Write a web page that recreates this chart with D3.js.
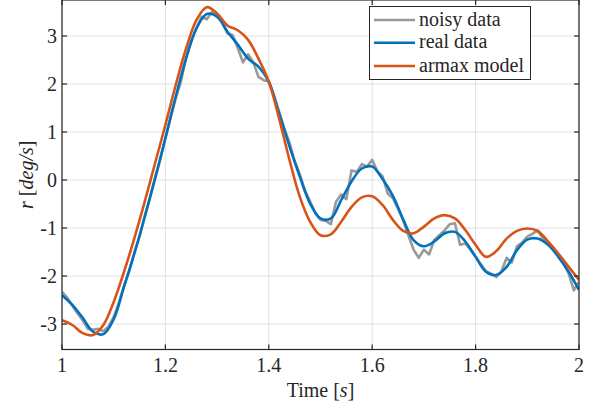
<!DOCTYPE html>
<html>
<head>
<meta charset="utf-8">
<script src="https://cdn.jsdelivr.net/npm/d3@7"></script>
<style>
  body { margin: 0; background: #fff; }
  svg { display: block; font-family: "Liberation Serif", serif; }
</style>
</head>
<body>
<script>
// time axis for the smooth series (step 0.02)
var tSmooth = d3.range(0, 51).map(function(i) { return 1 + i * 0.02; });
// time axis for the noisy series (step 0.01)
var tNoisy = d3.range(0, 101).map(function(i) { return 1 + i * 0.01; });

var realData = [-2.40, -2.60, -2.87, -3.16, -3.21, -2.90, -2.22, -1.53, -0.77, 0.03,
  0.87, 1.74, 2.53, 3.16, 3.46, 3.40, 3.09, 2.82, 2.53, 2.36,
  2.05, 1.39, 0.70, 0.07, -0.49, -0.80, -0.80, -0.42, -0.03, 0.24,
  0.28, 0.02, -0.33, -0.82, -1.25, -1.38, -1.28, -1.11, -1.08, -1.28,
  -1.60, -1.91, -1.98, -1.81, -1.46, -1.24, -1.22, -1.35, -1.60, -1.91,
  -2.29];

var armaxModel = [-2.92, -3.02, -3.19, -3.23, -3.02, -2.54, -1.91, -1.21, -0.45, 0.35,
  1.15, 1.98, 2.74, 3.33, 3.60, 3.47, 3.22, 3.12, 2.92, 2.53,
  2.05, 1.28, 0.42, -0.35, -0.87, -1.15, -1.13, -0.87, -0.56, -0.36,
  -0.34, -0.52, -0.83, -1.06, -1.11, -0.97, -0.80, -0.73, -0.80, -1.04,
  -1.35, -1.60, -1.48, -1.22, -1.06, -1.01, -1.06, -1.28, -1.53, -1.81,
  -2.08];

var noisyData = [-2.33, -2.45, -2.62, -2.78, -2.92, -3.10, -3.12, -3.10, -3.15, -3.05,
  -2.85, -2.55, -2.20, -1.90, -1.50, -1.18, -0.75, -0.38, 0.05, 0.42,
  0.88, 1.30, 1.70, 2.05, 2.55, 2.90, 3.15, 3.40, 3.35, 3.50,
  3.42, 3.30, 3.05, 3.02, 2.75, 2.45, 2.62, 2.45, 2.15, 2.08,
  2.05, 1.75, 1.42, 1.08, 0.78, 0.40, 0.12, -0.22, -0.45, -0.68,
  -0.83, -0.85, -0.92, -0.45, -0.30, -0.40, 0.20, 0.17, 0.33, 0.28,
  0.42, 0.18, 0.08, -0.28, -0.38, -0.60, -0.85, -1.15, -1.45, -1.62,
  -1.45, -1.55, -1.25, -1.15, -1.05, -0.92, -0.90, -1.35, -1.32, -1.45,
  -1.60, -1.75, -1.90, -1.95, -2.02, -1.90, -1.62, -1.72, -1.38, -1.30,
  -1.18, -1.12, -1.05, -1.22, -1.32, -1.42, -1.58, -1.72, -1.95, -2.30,
  -2.12];

var xTicks = [1, 1.2, 1.4, 1.6, 1.8, 2];
var xTickLabels = ["1", "1.2", "1.4", "1.6", "1.8", "2"];
var yTicks = [-3, -2, -1, 0, 1, 2, 3];
var yTickLabels = ["-3", "-2", "-1", "0", "1", "2", "3"];
var legendNames = ["noisy data", "real data", "armax model"];
var colors = ["#999999", "#0072BD", "#D95319"];

var width = 594, height = 406;
var padL = 62, padR = 579, padT = 0, padB = 349.5;

var svg = d3.select("body").append("svg")
  .attr("width", width)
  .attr("height", height);

var x = d3.scaleLinear().domain([1, 2]).range([padL, padR]);
var y = d3.scaleLinear().domain([-3.53, 3.75]).range([padB, padT]);

// grid
var grid = svg.append("g");
grid.selectAll(".gx").data(xTicks).enter().append("line")
  .attr("x1", function(d) { return x(d); }).attr("x2", function(d) { return x(d); })
  .attr("y1", padT).attr("y2", padB)
  .attr("stroke", "#e0e0e0").attr("stroke-width", 1);
grid.selectAll(".gy").data(yTicks).enter().append("line")
  .attr("y1", function(d) { return y(d); }).attr("y2", function(d) { return y(d); })
  .attr("x1", padL).attr("x2", padR)
  .attr("stroke", "#e0e0e0").attr("stroke-width", 1);

svg.append("clipPath").attr("id", "clip")
  .append("rect").attr("x", padL).attr("y", padT)
  .attr("width", padR - padL).attr("height", padB - padT);

var plot = svg.append("g").attr("clip-path", "url(#clip)");

var lineNoisy = d3.line()
  .x(function(d, i) { return x(tNoisy[i]); })
  .y(function(d) { return y(d); });

var lineSmooth = d3.line()
  .x(function(d, i) { return x(tSmooth[i]); })
  .y(function(d) { return y(d); })
  .curve(d3.curveCatmullRom.alpha(0.5));

plot.append("path").datum(noisyData)
  .attr("d", lineNoisy).attr("fill", "none")
  .attr("stroke", colors[0]).attr("stroke-width", 2.6)
  .attr("stroke-linejoin", "round");
plot.append("path").datum(realData)
  .attr("d", lineSmooth).attr("fill", "none")
  .attr("stroke", colors[1]).attr("stroke-width", 2.6);
plot.append("path").datum(armaxModel)
  .attr("d", lineSmooth).attr("fill", "none")
  .attr("stroke", colors[2]).attr("stroke-width", 2.6);

// axes (box with inward ticks)
var axisColor = "#262626";
var axes = svg.append("g");
axes.append("rect")
  .attr("x", padL).attr("y", padT)
  .attr("width", padR - padL).attr("height", padB - padT)
  .attr("fill", "none").attr("stroke", axisColor).attr("stroke-width", 1.2);

var tickLen = 5;
xTicks.forEach(function(d) {
  axes.append("line").attr("x1", x(d)).attr("x2", x(d))
    .attr("y1", padB).attr("y2", padB - tickLen)
    .attr("stroke", axisColor).attr("stroke-width", 1.2);
  axes.append("line").attr("x1", x(d)).attr("x2", x(d))
    .attr("y1", padT).attr("y2", padT + tickLen)
    .attr("stroke", axisColor).attr("stroke-width", 1.2);
});
yTicks.forEach(function(d) {
  axes.append("line").attr("x1", padL).attr("x2", padL + tickLen)
    .attr("y1", y(d)).attr("y2", y(d))
    .attr("stroke", axisColor).attr("stroke-width", 1.2);
  axes.append("line").attr("x1", padR).attr("x2", padR - tickLen)
    .attr("y1", y(d)).attr("y2", y(d))
    .attr("stroke", axisColor).attr("stroke-width", 1.2);
});

svg.selectAll(".xl").data(xTicks).enter().append("text")
  .attr("x", function(d) { return x(d); })
  .attr("y", 372)
  .attr("text-anchor", "middle")
  .attr("font-size", 20)
  .attr("fill", axisColor)
  .text(function(d, i) { return xTickLabels[i]; });

svg.selectAll(".yl").data(yTicks).enter().append("text")
  .attr("x", 57)
  .attr("y", function(d) { return y(d) + 6.5; })
  .attr("text-anchor", "end")
  .attr("font-size", 20)
  .attr("fill", axisColor)
  .text(function(d, i) { return yTickLabels[i]; });

// axis labels
var xlab = svg.append("text")
  .attr("x", (padL + padR) / 2).attr("y", 397)
  .attr("text-anchor", "middle").attr("font-size", 20).attr("fill", axisColor);
xlab.append("tspan").text("Time [");
xlab.append("tspan").attr("font-style", "italic").text("s");
xlab.append("tspan").text("]");

var ylab = svg.append("text")
  .attr("transform", "translate(33," + ((padT + padB) / 2) + ") rotate(-90)")
  .attr("text-anchor", "middle").attr("font-size", 20).attr("fill", axisColor);
ylab.append("tspan").attr("font-style", "italic").text("r");
ylab.append("tspan").text(" [");
ylab.append("tspan").attr("font-style", "italic").text("deg/s");
ylab.append("tspan").text("]");

// legend
var legend = svg.append("g");
legend.append("rect")
  .attr("x", 369.5).attr("y", 6.5).attr("width", 161).attr("height", 73)
  .attr("fill", "#fff").attr("stroke", axisColor).attr("stroke-width", 1);
var rowsY = [20, 42.7, 66];
legendNames.forEach(function(name, i) {
  legend.append("line")
    .attr("x1", 374).attr("x2", 415)
    .attr("y1", rowsY[i]).attr("y2", rowsY[i])
    .attr("stroke", colors[i]).attr("stroke-width", 2.6);
  legend.append("text")
    .attr("x", 419).attr("y", rowsY[i] + 5.5)
    .attr("font-size", 20).attr("fill", axisColor)
    .text(name);
});
</script>
</body>
</html>
